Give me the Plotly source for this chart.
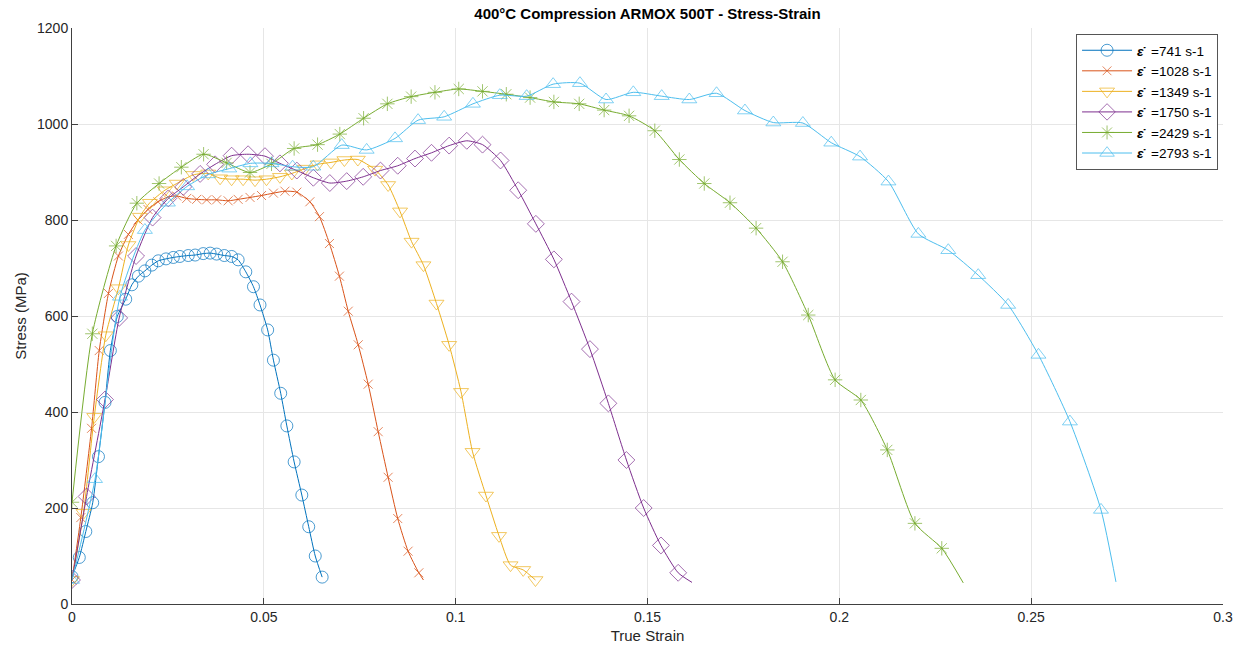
import plotly.graph_objects as go

# ---- data ----
rates = ["741", "1028", "1349", "1750", "2429", "2793"]

strain_741 = [0, 0.0019, 0.0036, 0.0054, 0.0069, 0.0086, 0.0100, 0.0118, 0.0140, 0.0156,
              0.0173, 0.0190, 0.0208, 0.0225, 0.0245, 0.0264, 0.0281, 0.0303, 0.0321, 0.0342,
              0.0360, 0.0377, 0.0397, 0.0416, 0.0433, 0.0453, 0.0473, 0.0490, 0.0510, 0.0525,
              0.0544, 0.0560, 0.0579, 0.0599, 0.0617, 0.0634, 0.0652]
stress_741 = [57, 97, 151, 211, 307, 420, 528, 599, 635, 665,
              683, 694, 706, 715, 719, 722, 724, 726, 727, 730,
              731, 729, 726, 724, 717, 692, 661, 623, 571, 508,
              439, 371, 296, 227, 161, 100, 56]

strain_1028 = [0, 0.0023, 0.0051, 0.0071, 0.0095, 0.0121, 0.0147, 0.0172, 0.0198, 0.0224,
               0.0250, 0.0273, 0.0299, 0.0325, 0.0351, 0.0377, 0.0407, 0.0433, 0.0464, 0.0494,
               0.0525, 0.0555, 0.0586, 0.0620, 0.0645, 0.0671, 0.0697, 0.0720, 0.0746, 0.0772,
               0.0798, 0.0824, 0.0849, 0.0876, 0.0904, 0.0916]
stress_1028 = [50, 180, 366, 528, 647, 725, 770, 800, 822, 838,
               848, 850, 845, 843, 842, 842, 840, 843, 847, 851,
               856, 860, 858, 838, 807, 751, 683, 610, 540, 458,
               359, 264, 178, 110, 65, 50]

strain_1349 = [0, 0.0030, 0.0058, 0.0088, 0.0121, 0.0147, 0.0177, 0.0203, 0.0242, 0.0273,
               0.0316, 0.0355, 0.0386, 0.0416, 0.0446, 0.0477, 0.0507, 0.0542, 0.0573, 0.0607,
               0.0640, 0.0675, 0.0710, 0.0745, 0.0790, 0.0824, 0.0855, 0.0885, 0.0916, 0.0950,
               0.0983, 0.1014, 0.1044, 0.1079, 0.1113, 0.1143, 0.1176, 0.1208]
stress_1349 = [50, 190, 390, 560, 658, 748, 807, 836, 862, 876,
               894, 897, 887, 885, 885, 883, 885, 890, 897, 907,
               916, 920, 925, 926, 905, 873, 818, 755, 706, 626,
               540, 442, 317, 226, 142, 81, 71, 50]

strain_1750 = [0, 0.0038, 0.0086, 0.0123, 0.0167, 0.0210, 0.0251, 0.0290, 0.0334, 0.0373,
               0.0416, 0.0459, 0.0503, 0.0542, 0.0586, 0.0629, 0.0672, 0.0716, 0.0759, 0.0804,
               0.0849, 0.0894, 0.0937, 0.0983, 0.1029, 0.1070, 0.1117, 0.1163, 0.1209, 0.1256,
               0.1302, 0.1350, 0.1398, 0.1445, 0.1490, 0.1535, 0.1580, 0.1616]
stress_1750 = [50, 224, 426, 596, 725, 805, 845, 869, 896, 916,
               934, 937, 933, 918, 903, 888, 877, 881, 890, 903,
               913, 928, 940, 955, 965, 957, 924, 862, 792, 718,
               630, 531, 418, 300, 200, 122, 65, 45]

strain_2429 = [0, 0.0053, 0.0115, 0.0169, 0.0227, 0.0285, 0.0343, 0.0403, 0.0464, 0.0520,
               0.0579, 0.0640, 0.0698, 0.0760, 0.0822, 0.0884, 0.0946, 0.1008, 0.1070, 0.1132,
               0.1194, 0.1256, 0.1322, 0.1387, 0.1452, 0.1519, 0.1583, 0.1648, 0.1715, 0.1783,
               0.1852, 0.1919, 0.1989, 0.2056, 0.2125, 0.2197, 0.2267, 0.2323]
stress_2429 = [212, 563, 746, 835, 876, 910, 937, 919, 899, 917,
               949, 957, 979, 1012, 1042, 1057, 1066, 1073, 1068, 1062,
               1055, 1046, 1042, 1029, 1017, 986, 926, 876, 836, 783,
               713, 602, 467, 425, 321, 168, 116, 44]

strain_2793 = [0, 0.0060, 0.0125, 0.0190, 0.0250, 0.0300, 0.0355, 0.0410, 0.0465, 0.0520,
               0.0575, 0.0629, 0.0703, 0.0768, 0.0842, 0.0902, 0.0970, 0.1045, 0.1115, 0.1185,
               0.1254, 0.1324, 0.1392, 0.1463, 0.1537, 0.1609, 0.1680, 0.1754, 0.1828, 0.1905,
               0.1979, 0.2054, 0.2128, 0.2206, 0.2284, 0.2362, 0.2440, 0.2519, 0.2601, 0.2682,
               0.2721]
stress_2793 = [50, 260, 640, 779, 836, 870, 895, 907, 918, 918,
               911, 911, 956, 946, 970, 1008, 1015, 1042, 1060, 1058,
               1083, 1085, 1051, 1066, 1058, 1051, 1064, 1028, 1003, 1002,
               961, 932, 880, 771, 737, 685, 623, 519, 380, 196,
               46]

x_ticks = [0, 0.05, 0.1, 0.15, 0.2, 0.25, 0.3]
x_tick_labels = ["0", "0.05", "0.1", "0.15", "0.2", "0.25", "0.3"]
y_ticks = [0, 200, 400, 600, 800, 1000, 1200]
y_tick_labels = ["0", "200", "400", "600", "800", "1000", "1200"]

# ---- styling ----
series = [
    (strain_741, stress_741, "#0072BD", "circle-open", 12, False),
    (strain_1028, stress_1028, "#D95319", "x-thin-open", 9, True),
    (strain_1349, stress_1349, "#EDB120", "triangle-down-open", 13, False),
    (strain_1750, stress_1750, "#7E2F8E", "diamond-open", 13, True),
    (strain_2429, stress_2429, "#77AC30", "asterisk-open", 12, True),
    (strain_2793, stress_2793, "#4DBEEE", "triangle-up-open", 13, True),
]

fig = go.Figure()
for rate, (xs, ys, col, sym, msz, open_end) in zip(rates, series):
    sizes = [msz] * len(xs)
    if open_end:
        sizes[-1] = 0
    fig.add_trace(go.Scatter(
        x=xs, y=ys, mode="lines+markers",
        name="<b><i>\u03b5\u0307</i></b>\u00a0\u00a0=" + rate + " s-1",
        line=dict(color=col, width=1, shape="spline", smoothing=0.6),
        marker=dict(symbol=sym, size=sizes, color=col, line=dict(color=col, width=1)),
    ))

font_family = "Liberation Sans, Arial, Helvetica, sans-serif"
axis_common = dict(
    showgrid=True, gridcolor="#e6e6e6", gridwidth=1,
    showline=True, linecolor="#404040", linewidth=1,
    ticks="inside", ticklen=6, tickcolor="#404040",
    zeroline=False, mirror=False,
    tickfont=dict(family=font_family, size=14, color="#262626"),
)

fig.update_layout(
    width=1247, height=656,
    margin=dict(l=72, r=24, t=28, b=52),
    paper_bgcolor="white", plot_bgcolor="white",
    font=dict(family=font_family, size=14, color="#262626"),
    title=dict(text="<b>400°C Compression ARMOX 500T - Stress-Strain</b>",
               x=0.5, xref="paper", xanchor="center",
               y=1 - 14 / 656, yref="container", yanchor="middle",
               font=dict(family=font_family, size=15, color="#000000")),
    xaxis=dict(range=[0, 0.3], tickvals=x_ticks, ticktext=x_tick_labels,
               title=dict(text="True Strain", standoff=6,
                          font=dict(family=font_family, size=15, color="#262626")),
               **axis_common),
    yaxis=dict(range=[0, 1200], tickvals=y_ticks, ticktext=y_tick_labels,
               title=dict(text="Stress (MPa)", standoff=6,
                          font=dict(family=font_family, size=15, color="#262626")),
               **axis_common),
    legend=dict(x=0.9957, y=0.9896, xanchor="right", yanchor="top",
                bgcolor="white", bordercolor="#555555", borderwidth=1,
                font=dict(family=font_family, size=13.5, color="#000000"),
                itemwidth=50, tracegroupgap=0),
    showlegend=True,
)

fig.write_html("out.html")
